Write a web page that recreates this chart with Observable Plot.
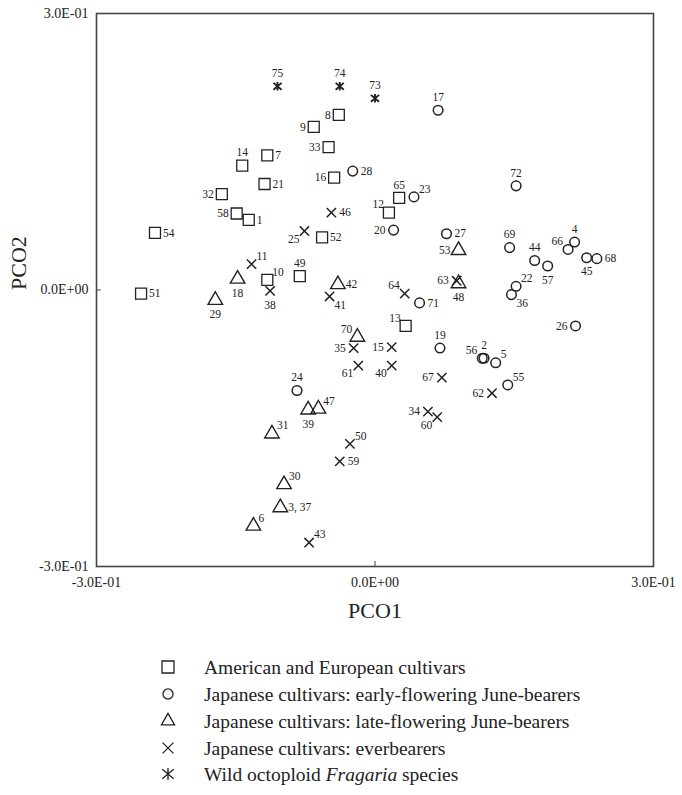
<!DOCTYPE html>
<html><head><meta charset="utf-8">
<script src="https://cdn.jsdelivr.net/npm/d3@7"></script>
<script src="https://cdn.jsdelivr.net/npm/@observablehq/plot@0.6"></script>
<style>
body{margin:0;background:#fff;font-family:"Liberation Serif","Times New Roman",serif;}
#wrap{position:relative;width:682px;height:795px;}
.row{position:absolute;left:0;height:27px;font-family:"Liberation Serif",serif;font-size:19.5px;color:#222;white-space:nowrap;}
.row svg{position:absolute;left:158px;top:3px;}
.row span{position:absolute;left:204px;top:1px;line-height:25px;}
</style></head><body>
<div id="wrap"><div id="chart"></div><div id="legend"></div></div>
<script>
// Accession labels, groups and PCO coordinates
const labels = ["75","74","73","17","8","9","33","14","7","16",
  "28","21","32","58","1","46","25","52","54","12",
  "65","23","20","27","53","72","69","44","57","66",
  "4","45","68","22","36","63","48","64","71","11",
  "10","49","18","42","51","38","41","29","70","35",
  "61","15","40","13","19","56","2","5","55","26",
  "67","62","34","60","24","39","47","31","50","59",
  "30","3, 37","6","43"];
const groups = ["W","W","W","E","A","A","A","A","A","A",
  "E","A","A","A","A","V","V","A","A","A",
  "A","E","E","E","L","E","E","E","E","E",
  "E","E","E","E","E","V","L","V","E","V",
  "A","A","L","L","A","V","V","L","L","V",
  "V","V","V","A","E","E","E","E","E","E",
  "V","V","V","V","E","L","L","L","V","V",
  "L","L","L","V"];
const pco1 = [-0.105,-0.038,0.000,0.068,-0.039,-0.066,-0.050,-0.143,-0.116,-0.044,
  -0.024,-0.119,-0.165,-0.149,-0.136,-0.047,-0.076,-0.057,-0.237,0.015,
  0.026,0.042,0.020,0.077,0.090,0.152,0.145,0.172,0.186,0.208,
  0.215,0.228,0.239,0.152,0.147,0.088,0.090,0.032,0.048,-0.133,
  -0.116,-0.081,-0.148,-0.040,-0.252,-0.113,-0.049,-0.172,-0.019,-0.023,
  -0.018,0.018,0.018,0.033,0.070,0.1155,0.1175,0.130,0.143,0.216,
  0.072,0.126,0.057,0.067,-0.084,-0.072,-0.061,-0.111,-0.027,-0.038,
  -0.098,-0.102,-0.131,-0.071];
const pco2 = [0.221,0.221,0.208,0.195,0.190,0.177,0.155,0.135,0.146,0.122,
  0.129,0.115,0.104,0.083,0.076,0.084,0.064,0.057,0.062,0.084,
  0.100,0.101,0.065,0.061,0.043,0.113,0.046,0.032,0.026,0.044,
  0.052,0.035,0.034,0.004,-0.005,0.010,0.007,-0.004,-0.014,0.028,
  0.011,0.015,0.012,0.006,-0.004,-0.001,-0.007,-0.011,-0.051,-0.063,
  -0.082,-0.062,-0.082,-0.039,-0.063,-0.074,-0.074,-0.079,-0.103,-0.039,
  -0.095,-0.112,-0.132,-0.138,-0.109,-0.130,-0.129,-0.156,-0.167,-0.186,
  -0.211,-0.236,-0.256,-0.274];
const labelSide = ["N","N","N","N","W","W","W","N","E","W",
  "E","E","W","W","E","E","SW","E","E","NW",
  "N","NE","W","E","W","N","N","N","S","NW",
  "N","S","E","NE","SE","W","S","NW","E","NE",
  "NE","N","S","E","E","S","SE","S","NW","W",
  "SW","W","SW","NW","N","NW","N","NE","NE","W",
  "W","W","W","SW","N","S","NE","NE","NE","E",
  "NE","E","NE","NE"];
const groupKeys = ["A","E","L","V","W"];
const groupNames = ["American and European cultivars",
  "Japanese cultivars: early-flowering June-bearers",
  "Japanese cultivars: late-flowering June-bearers",
  "Japanese cultivars: everbearers",
  "Wild octoploid <i>Fragaria</i> species"];
const axisTicks = [-0.3, 0, 0.3];

const data = labels.map((l,i)=>({label:l, group:groups[i], x:pco1[i], y:pco2[i], side:labelSide[i]}));
// X with a vertical bar, as in the reference
const starX = {draw(ctx, size) {
  const r = Math.sqrt(size / Math.PI), w = r * 0.95, h = r * 0.8;
  ctx.moveTo(0, -r); ctx.lineTo(0, r);
  ctx.moveTo(-w, -h); ctx.lineTo(w, h);
  ctx.moveTo(-w, h); ctx.lineTo(w, -h);
}};
const symbolOf = {A:"square",E:"circle",L:"triangle",V:"times",W:starX};
const rOf = {A:6.2,E:4.8,L:5.4,V:4.3,W:4.3};
const swOf = {A:1.3,E:1.5,L:1.4,V:1.5,W:1.9};
const dirs = {
  N:{dx:0,dy:-13,a:"middle"}, S:{dx:0,dy:14,a:"middle"},
  E:{dx:8,dy:0,a:"start"}, W:{dx:-8,dy:0,a:"end"},
  NE:{dx:5,dy:-8,a:"start"}, NW:{dx:-5,dy:-8,a:"end"},
  SE:{dx:5,dy:9,a:"start"}, SW:{dx:-5,dy:8,a:"end"}
};
const sci = v => {
  if (v === 0) return "0.0E+00";
  const e = Math.floor(Math.log10(Math.abs(v)) + 1e-9);
  const m = v / Math.pow(10, e);
  return m.toFixed(1) + "E" + (e < 0 ? "-" : "+") + String(Math.abs(e)).padStart(2, "0");
};

const W = 682, H = 640, mL = 96, mR = 29, mT = 13, mB = 74;
const innerW = W - mL - mR, innerH = H - mT - mB;
const ink = "#222";

const chart = Plot.plot({
  width: W, height: H,
  marginLeft: mL, marginRight: mR, marginTop: mT, marginBottom: mB,
  style: {fontFamily: '"Liberation Serif","Times New Roman",serif', background: "white", color: ink},
  x: {domain: [-0.3, 0.3]},
  y: {domain: [-0.3, 0.3]},
  marks: [
    Plot.frame({stroke: "#444", strokeWidth: 1.6}),
    Plot.ruleX([0], {insetTop: innerH - 5, stroke: "#444", strokeWidth: 1}),
    Plot.ruleY([0], {insetRight: innerW - 5, stroke: "#444", strokeWidth: 1}),
    Plot.axisX({ticks: axisTicks, tickFormat: sci, tickSize: 0, tickPadding: 11, fontSize: 14, label: null}),
    Plot.axisY({ticks: axisTicks, tickFormat: sci, tickSize: 0, tickPadding: 8, fontSize: 14, label: null}),
    Plot.text(["PCO1"], {frameAnchor: "bottom", dy: 51, fontSize: 22, fill: ink}),
    Plot.text(["PCO2"], {frameAnchor: "left", dx: -78, rotate: -90, fontSize: 22, fill: ink}),
    ...groupKeys.map(g => Plot.dot(data.filter(d => d.group === g), {
      x: "x", y: "y", symbol: symbolOf[g], r: rOf[g], stroke: ink, strokeWidth: swOf[g], fill: "none"
    })),
    ...Object.entries(dirs).map(([k, o]) => Plot.text(data.filter(d => d.side === k), {
      x: "x", y: "y", text: "label", dx: o.dx, dy: o.dy, textAnchor: o.a, fontSize: 11.5, fill: ink
    }))
  ]
});
document.getElementById("chart").appendChild(chart);

// Legend
const legSym = {A:[d3.symbolSquare2,183],E:[d3.symbolCircle,80],L:[d3.symbolTriangle2,125],V:[d3.symbolTimes,78],W:[starX,Math.PI*36]};
const leg = document.getElementById("legend");
leg.style.position = "absolute"; leg.style.left = "0"; leg.style.top = H + "px"; leg.style.width = W + "px";
groupKeys.forEach((g, i) => {
  const row = document.createElement("div");
  row.className = "row";
  row.style.top = (27.7 + i * 26.8 - 13.5) + "px";
  row.style.width = W + "px";
  const [t, s] = legSym[g];
  const path = d3.symbol().type(t).size(s)();
  row.innerHTML = `<svg width="20" height="20" viewBox="-10 -10 20 20"><path d="${path}" fill="none" stroke="${ink}" stroke-width="1.3"/></svg><span>${groupNames[i]}</span>`;
  leg.appendChild(row);
});
</script>
</body></html>
